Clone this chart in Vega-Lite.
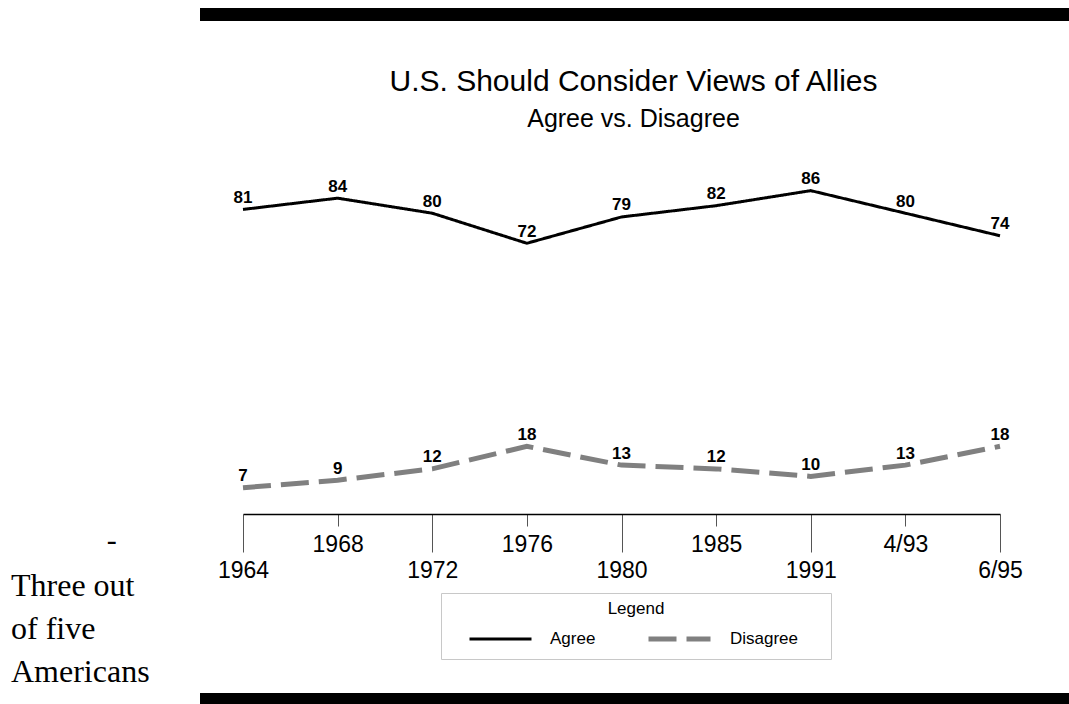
{
  "$schema": "https://vega.github.io/schema/vega-lite/v6.json",
  "width": 757,
  "height": 376,
  "autosize": {"type": "none"},
  "padding": {"left": 243, "top": 138, "right": 69, "bottom": 190},
  "background": "white",
  "config": {"view": {"stroke": null}, "font": "Liberation Sans"},
  "title": {
    "text": "U.S. Should Consider Views of Allies",
    "subtitle": "Agree vs. Disagree",
    "anchor": "middle",
    "frame": "group",
    "dx": 12,
    "offset": -124,
    "font": "Liberation Sans",
    "fontSize": 30,
    "fontWeight": "normal",
    "color": "black",
    "subtitleFont": "Liberation Sans",
    "subtitleFontSize": 25,
    "subtitleColor": "black",
    "subtitlePadding": 10
  },
  "resolve": {"scale": {"x": "independent"}},
  "layer": [
    {
      "data": {
        "values": [
          {"year": "1964", "series": "Agree", "value": 81},
          {"year": "1968", "series": "Agree", "value": 84},
          {"year": "1972", "series": "Agree", "value": 80},
          {"year": "1976", "series": "Agree", "value": 72},
          {"year": "1980", "series": "Agree", "value": 79},
          {"year": "1985", "series": "Agree", "value": 82},
          {"year": "1991", "series": "Agree", "value": 86},
          {"year": "4/93", "series": "Agree", "value": 80},
          {"year": "6/95", "series": "Agree", "value": 74},
          {"year": "1964", "series": "Disagree", "value": 7},
          {"year": "1968", "series": "Disagree", "value": 9},
          {"year": "1972", "series": "Disagree", "value": 12},
          {"year": "1976", "series": "Disagree", "value": 18},
          {"year": "1980", "series": "Disagree", "value": 13},
          {"year": "1985", "series": "Disagree", "value": 12},
          {"year": "1991", "series": "Disagree", "value": 10},
          {"year": "4/93", "series": "Disagree", "value": 13},
          {"year": "6/95", "series": "Disagree", "value": 18}
        ]
      },
      "layer": [
        {
          "mark": {"type": "line"},
          "encoding": {
            "x": {
              "field": "year", "type": "ordinal", "sort": null,
              "scale": {"type": "point", "padding": 0},
              "axis": {
                "title": null,
                "domainColor": "black",
                "domainWidth": 1.5,
                "tickColor": "#555555",
                "tickWidth": 1,
                "tickSize": {"condition": {"test": "indexof(['1968','1976','1985','4/93'], datum.value) >= 0", "value": 12}, "value": 38},
                "labelAngle": 0,
                "labelFont": "Liberation Sans",
                "labelFontSize": 23,
                "labelColor": "black",
                "labelBaseline": "top",
                "labelPadding": 7,
                "labelOverlap": false,
                "labelFlush": false,
                "labelBound": false
              }
            },
            "y": {"field": "value", "type": "quantitative", "scale": {"domain": [0, 100], "nice": false}, "axis": null},
            "color": {
              "field": "series", "type": "nominal",
              "scale": {"domain": ["Agree", "Disagree"], "range": ["#000000", "#808080"]},
              "legend": {
                "title": "Legend", "orient": "none", "legendX": 198, "legendY": 455, "direction": "horizontal",
                "titleAnchor": "middle", "titleOrient": "top", "titleFont": "Liberation Sans", "titleFontSize": 17, "titleFontWeight": "normal", "titleColor": "black", "titlePadding": 9,
                "labelFont": "Liberation Sans", "labelFontSize": 17, "labelColor": "black", "labelOffset": 17,
                "labelExpr": "datum.label == 'Disagree' ? 'Disagree\u2800\u2800' : datum.label",
                "symbolType": "stroke", "symbolSize": 3844, "symbolOffset": 19, "clipHeight": 24,
                "columnPadding": 31, "padding": 8, "strokeColor": "#c8c8c8"
              }
            },
            "strokeDash": {
              "field": "series", "type": "nominal",
              "scale": {"domain": ["Agree", "Disagree"], "range": [[1, 0], [28, 10]]},
              "legend": {"title": "Legend"}
            },
            "strokeWidth": {
              "field": "series", "type": "nominal",
              "scale": {"domain": ["Agree", "Disagree"], "range": [3, 5]},
              "legend": {"title": "Legend"}
            }
          }
        },
        {
          "mark": {"type": "text", "baseline": "middle", "align": "center", "dy": -11.5, "font": "Liberation Sans", "fontSize": 17, "fontWeight": "bold", "color": "black"},
          "encoding": {
            "x": {"field": "year", "type": "ordinal", "sort": null, "scale": {"type": "point", "padding": 0}},
            "y": {"field": "value", "type": "quantitative", "scale": {"domain": [0, 100], "nice": false}, "axis": null},
            "text": {"field": "value", "type": "quantitative"}
          }
        }
      ]
    },
    {
      "data": {"values": [{}]},
      "layer": [
        {
          "mark": {"type": "rect", "color": "black"},
          "encoding": {
            "x": {"datum": -0.0568, "type": "quantitative", "scale": {"domain": [0, 1], "nice": false, "zero": false}, "axis": null},
            "x2": {"datum": 1.1},
            "y": {"datum": 134.6, "type": "quantitative", "scale": {"domain": [0, 100], "nice": false}, "axis": null},
            "y2": {"datum": 131.1}
          }
        },
        {
          "mark": {"type": "rect", "color": "black"},
          "encoding": {
            "x": {"datum": -0.0568, "type": "quantitative", "scale": {"domain": [0, 1], "nice": false, "zero": false}, "axis": null},
            "x2": {"datum": 1.1},
            "y": {"datum": -47.6, "type": "quantitative", "scale": {"domain": [0, 100], "nice": false}, "axis": null},
            "y2": {"datum": -52}
          }
        },
        {
          "mark": {"type": "text", "text": "-", "font": "Liberation Serif", "fontSize": 30, "align": "center", "baseline": "alphabetic", "color": "black"},
          "encoding": {
            "x": {"datum": -0.1734, "type": "quantitative", "scale": {"domain": [0, 1], "nice": false, "zero": false}, "axis": null},
            "y": {"datum": -9.6, "type": "quantitative", "scale": {"domain": [0, 100], "nice": false}, "axis": null}
          }
        },
        {
          "mark": {"type": "text", "text": ["Three out", "of five", "Americans"], "lineHeight": 43, "font": "Liberation Serif", "fontSize": 32, "align": "left", "baseline": "alphabetic", "color": "black"},
          "encoding": {
            "x": {"datum": -0.3065, "type": "quantitative", "scale": {"domain": [0, 1], "nice": false, "zero": false}, "axis": null},
            "y": {"datum": -21.8, "type": "quantitative", "scale": {"domain": [0, 100], "nice": false}, "axis": null}
          }
        }
      ]
    }
  ]
}
